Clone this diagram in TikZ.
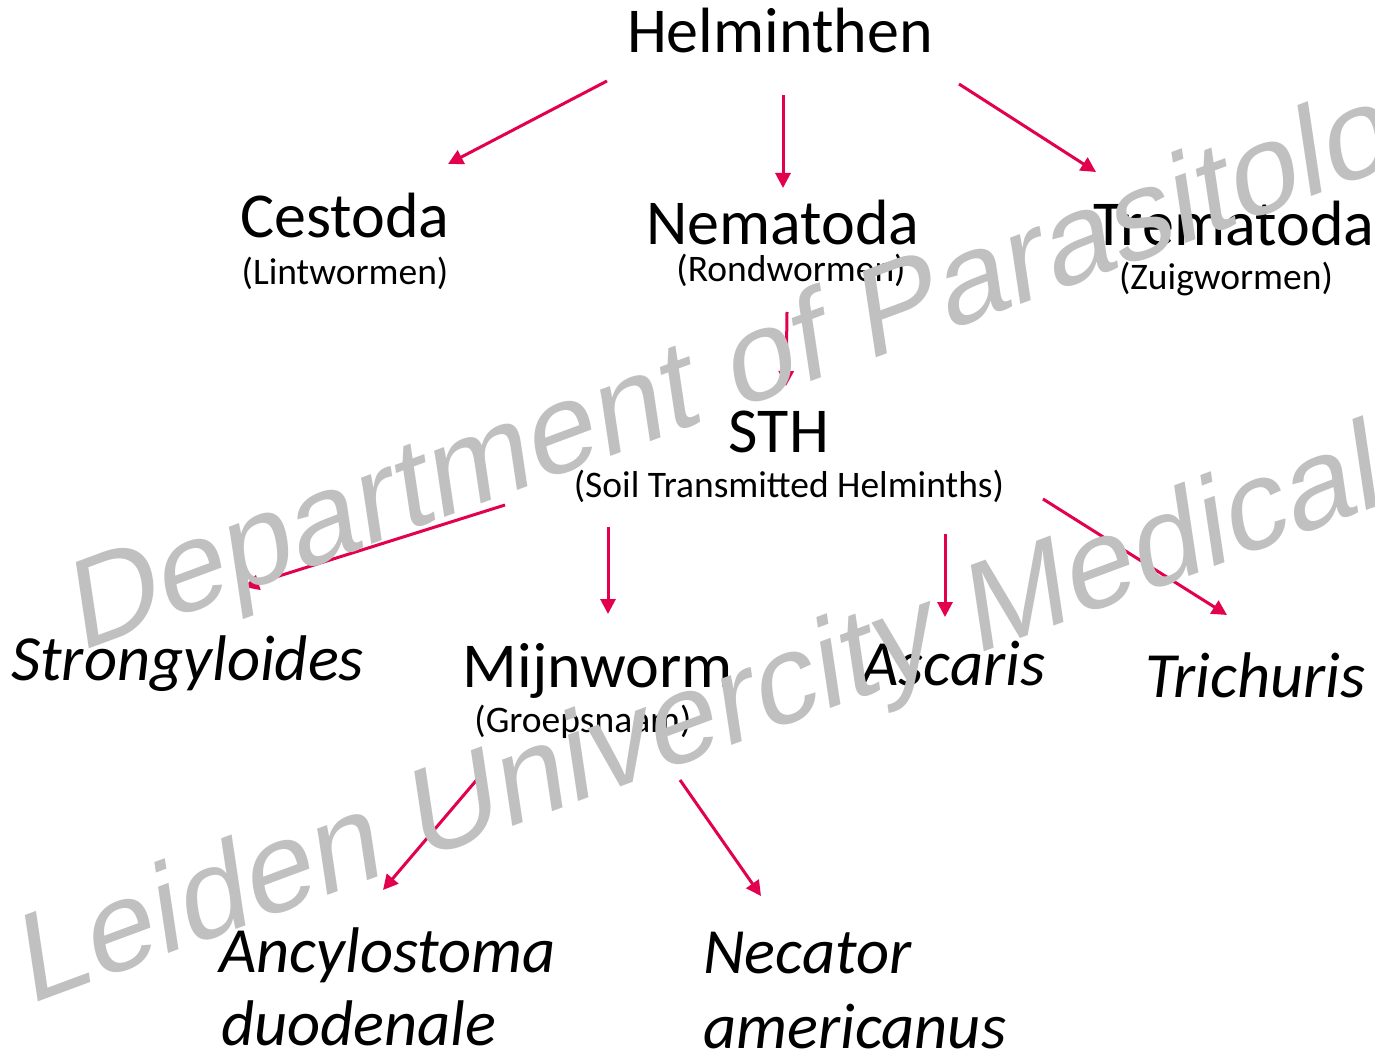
\documentclass[tikz,border=0pt]{standalone}
\usepackage{fontspec}
\setmainfont{Carlito}
\newfontfamily\wmfont{Liberation Sans}
\usetikzlibrary{arrows.meta}
\definecolor{arrowred}{HTML}{E2004F}
\definecolor{wmgray}{HTML}{C0C0C0}
\tikzset{
  big/.style={inner sep=0pt, font=\fontsize{64}{76}\selectfont},
  bigit/.style={inner sep=0pt, font=\fontsize{64.5}{76}\selectfont\itshape},
  sub/.style={inner sep=0pt, font=\fontsize{37.5}{44}\selectfont},
  conn/.style={draw=arrowred, line width=3pt, -{Triangle[length=15pt,width=15pt]}},
  wmark/.style={inner sep=0pt, anchor=base west, transform shape, text=wmgray,
    font=\wmfont\fontsize{100}{120}\selectfont}
}
\begin{document}
\begin{tikzpicture}[x=1pt,y=-1pt]
\useasboundingbox (0,0) rectangle (1375,1051);
\fill[white] (0,0) rectangle (1375,1051);

% connector end points
\coordinate (h1) at (607,81);   \coordinate (c0) at (448,164);
\coordinate (h2) at (783,95);   \coordinate (n0) at (783,188);
\coordinate (h3) at (959,84);   \coordinate (t0) at (1096,172);
\coordinate (n1) at (787,312);  \coordinate (s0) at (786,386);
\coordinate (s1) at (505,505);  \coordinate (g0) at (244,587);
\coordinate (s2) at (608,527);  \coordinate (m0) at (608,614);
\coordinate (s3) at (945,534);  \coordinate (a0) at (945,617);
\coordinate (s4) at (1043,499); \coordinate (r0) at (1227,615);
\coordinate (m1) at (480,776);  \coordinate (y0) at (383,890);
\coordinate (m2) at (680,780);  \coordinate (e0) at (761,896);

\draw[conn] (h1) -- (c0);
\draw[conn] (h2) -- (n0);
\draw[conn] (h3) -- (t0);
\draw[conn] (n1) -- (s0);
\draw[conn] (s1) -- (g0);
\draw[conn] (s2) -- (m0);
\draw[conn] (s3) -- (a0);
\draw[conn] (s4) -- (r0);
\draw[conn] (m1) -- (y0);
\draw[conn] (m2) -- (e0);

% texts
\node[big, anchor=base] (helm) at (780,53) {Helminthen};
\node[big, anchor=base] (cest) at (345,237) {Cestoda};
\node[sub, anchor=base] (cestsub) at (345,284) {(Lintwormen)};
\node[big, anchor=base] (nema) at (783,244) {Nematoda};
\node[sub, anchor=base] (nemasub) at (791,281) {(Rondwormen)};
\node[big, anchor=base] (trem) at (1234,245) {Trematoda};
\node[sub, anchor=base] (tremsub) at (1226,289) {(Zuigwormen)};
\node[big, anchor=base] (sth) at (779,452) {STH};
\node[sub, anchor=base] (sthsub) at (789,497) {(Soil Transmitted Helminths)};
\node[bigit, anchor=base west] (strong) at (11,680) {Strongyloides};
\node[big, anchor=base] (mijn) at (598,687) {Mijnworm};
\node[sub, anchor=base] (mijnsub) at (583,732) {(Groepsnaam)};
\node[bigit, anchor=base west] (asc) at (861,685) {Ascaris};
\node[bigit, anchor=base west] (tri) at (1145,697) {Trichuris};
\node[bigit, anchor=base west] (anc) at (219,972) {Ancylostoma};
\node[bigit, anchor=base west] (duo) at (221,1045) {duodenale};
\node[bigit, anchor=base west] (nec) at (703,973) {Necator};
\node[bigit, anchor=base west] (ame) at (703,1048) {americanus};

% watermark
\begin{scope}
\clip (0,0) rectangle (1375,1051);
\begin{scope}[shift={(79,653)}, cm={1.191,0.441,-0.188,1.256,(0,0)}]
\node[wmark] (wm1) at (0,0) {Department of Parasitology};
\end{scope}
\begin{scope}[shift={(28,1006)}, cm={1.191,0.441,-0.188,1.256,(0,0)}]
\node[wmark] (wm2) at (0,0) {Leiden Univercity Medical};
\end{scope}
\end{scope}
\end{tikzpicture}
\end{document}
